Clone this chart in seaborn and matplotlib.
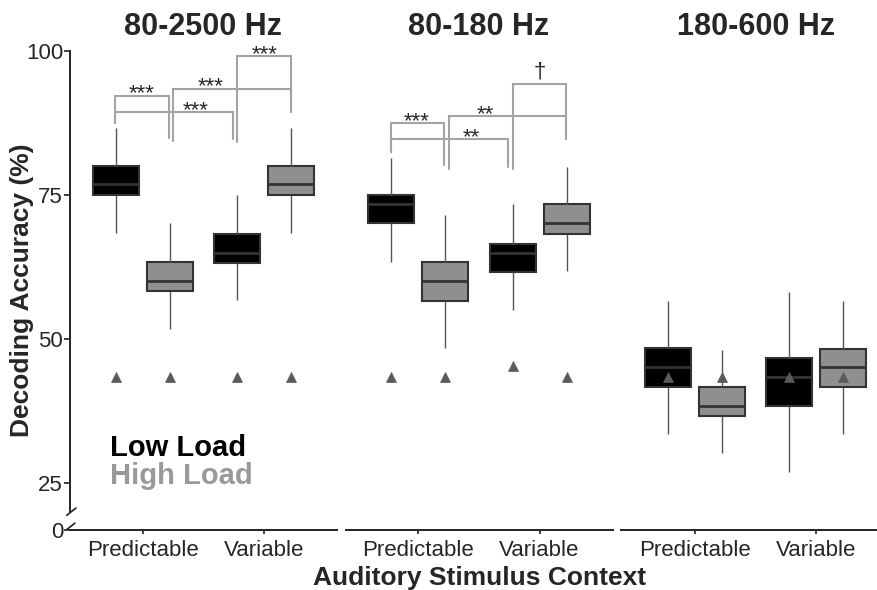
import numpy as np
import pandas as pd
import matplotlib
matplotlib.use("Agg")
import matplotlib.pyplot as plt
import matplotlib.transforms as mtransforms
import seaborn as sns

# %%
bands = ["80-2500 Hz", "80-180 Hz", "180-600 Hz"]
contexts = ["Predictable", "Variable"]
loads = ["Low Load", "High Load"]

# five-number summaries read off the boxes: whisker low, Q1, median, Q3, whisker high
# order: Pred/Low, Pred/High, Var/Low, Var/High
box_80_2500 = [
    [68.4, 75.0, 76.9, 80.0, 86.7],
    [51.7, 58.4, 60.1, 63.4, 70.1],
    [56.8, 63.3, 65.0, 68.3, 75.0],
    [68.4, 75.0, 76.9, 80.0, 86.7],
]
box_80_180 = [
    [63.4, 70.1, 73.4, 75.0, 81.5],
    [48.4, 56.7, 60.1, 63.4, 71.6],
    [55.0, 61.6, 65.0, 66.6, 73.4],
    [61.9, 68.3, 70.1, 73.4, 79.9],
]
box_180_600 = [
    [33.5, 41.7, 45.1, 48.4, 56.7],
    [30.3, 36.7, 38.4, 41.7, 48.2],
    [27.0, 38.4, 43.5, 46.7, 58.2],
    [33.5, 41.7, 45.1, 48.3, 56.7],
]
# chance level (triangles)
chance_80_2500 = [43.5, 43.5, 43.5, 43.5]
chance_80_180 = [43.5, 43.5, 45.3, 43.5]
chance_180_600 = [43.5, 43.5, 43.5, 43.5]

# significance brackets: x left, x right, top, left leg end, right leg end, label, label x
brackets_80_2500 = [
    (-0.226, 0.214, 92.25, 87.5, 84.9, "***", -0.006),
    (-0.226, 0.742, 89.4, 87.5, 84.7, "***", 0.44),
    (0.25, 1.22, 93.45, 84.4, 89.5, "***", 0.559),
    (0.78, 1.22, 99.1, 84.25, 89.5, "***", 1.008),
]
brackets_80_180 = [
    (-0.228, 0.212, 87.45, 82.5, 80.2, "***", -0.013),
    (-0.228, 0.742, 84.7, 82.5, 79.9, "**", 0.44),
    (0.25, 1.218, 88.66, 79.6, 84.8, "**", 0.556),
    (0.778, 1.218, 94.3, 79.5, 84.8, "\u2020", 1.003),
]
brackets_180_600 = []

boxes = [box_80_2500, box_80_180, box_180_600]
chances = [chance_80_2500, chance_80_180, chance_180_600]
brackets = [brackets_80_2500, brackets_80_180, brackets_180_600]

# %%
sns.set_style("ticks")
plt.rcParams["font.family"] = ["Liberation Sans", "DejaVu Sans"]

box_colors = {"Low Load": "#000000", "High Load": "#8f8f8f"}
tri_colors = {"Low Load": "#5a5a5a", "High Load": "#5a5a5a"}
dark = "#222222"

fig = plt.figure(figsize=(8.78, 5.90), dpi=100)
bottom, height = 0.1017, 0.8119
rects = [(0.0797, bottom, 0.3044, height),
         (0.3937, bottom, 0.3048, height),
         (0.7070, bottom, 0.2930, height)]
xlims = [(-0.6, 1.604), (-0.6, 1.608), (-0.612, 1.509)]
conds = [(c, l) for c in contexts for l in loads]

for i, band in enumerate(bands):
    ax = fig.add_axes(rects[i])
    rows = []
    for (c, l), vals in zip(conds, boxes[i]):
        for v in vals:
            rows.append({"context": c, "load": l, "acc": v})
    df = pd.DataFrame(rows)
    sns.boxplot(data=df, x="context", y="acc", hue="load", order=contexts,
                hue_order=loads, palette=box_colors, saturation=1, width=0.89,
                gap=0.148, whis=(0, 100), showcaps=False, fliersize=0,
                linewidth=1.5, linecolor="#333333", legend=False, ax=ax,
                whiskerprops={"color": "#555555", "linewidth": 1.0},
                medianprops={"color": "#333333", "linewidth": 2.0})

    cdf = pd.DataFrame({"context": [c for c, l in conds],
                        "load": [l for c, l in conds],
                        "chance": chances[i]})
    sns.pointplot(data=cdf, x="context", y="chance", hue="load", order=contexts,
                  hue_order=loads, palette=tri_colors, markers="^",
                  linestyles="none", dodge=0.445, errorbar=None, legend=False,
                  ax=ax, markersize=7.5, markeredgewidth=0.5, zorder=5)

    for x1, x2, top, l1, l2, lab, lx in brackets[i]:
        ax.plot([x1, x1, x2, x2], [l1, top, top, l2], color="#a3a3a3", lw=1.5,
                solid_joinstyle="miter", clip_on=False)
        if lab == "\u2020":
            ax.annotate(lab, (lx, top), xytext=(0, 4.5), textcoords="offset points",
                        ha="center", va="baseline", fontsize=16)
        else:
            ax.annotate(lab, (lx, top), xytext=(0, -2.6), textcoords="offset points",
                        ha="center", va="baseline", fontsize=16)

    ax.set_xlim(*xlims[i])
    ax.set_ylim(16.9, 100)
    ax.set_xlabel("")
    ax.set_ylabel("")
    ax.text(0.5, 102.8, band, ha="center", va="baseline", fontsize=22,
            fontweight="bold")
    ax.tick_params(axis="x", length=3, width=1.2, color=dark, pad=4, labelsize=16)
    sns.despine(ax=ax, left=(i > 0))
    ax.spines["bottom"].set_linewidth(1.4)
    ax.spines["bottom"].set_color(dark)
    if i == 0:
        ax.set_yticks([16.9, 25, 50, 75, 100], labels=["0", "25", "50", "75", "100"])
        ax.tick_params(axis="y", length=4, width=1.2, color=dark, pad=1, labelsize=16)
        ax.spines["left"].set_linewidth(1.4)
        ax.spines["left"].set_color(dark)
        ax.spines["left"].set_bounds(20.1, 100)
        trans = mtransforms.blended_transform_factory(ax.transAxes, ax.transData)
        ax.plot([-0.0123, 0.0224], [19.44, 20.71], transform=trans, color=dark,
                lw=1.2, clip_on=False)
        ax.plot([-0.0123, 0.0187], [16.96, 18.1], transform=trans, color=dark,
                lw=1.2, clip_on=False)
        ax.text(-0.27, 29.7, "Low Load", fontsize=21, fontweight="bold",
                color="black", va="baseline")
        ax.text(-0.27, 24.95, "High Load", fontsize=21, fontweight="bold",
                color="#999999", va="baseline")
    else:
        ax.set_yticks([])

fig.text(22 / 878, 1 - 290.5 / 590, "Decoding Accuracy (%)", rotation=90,
         ha="center", va="center", fontsize=19, fontweight="bold")
fig.text(480 / 878, 5 / 590, "Auditory Stimulus Context", ha="center",
         va="baseline", fontsize=19, fontweight="bold")

fig.savefig("out.png", dpi=100)
